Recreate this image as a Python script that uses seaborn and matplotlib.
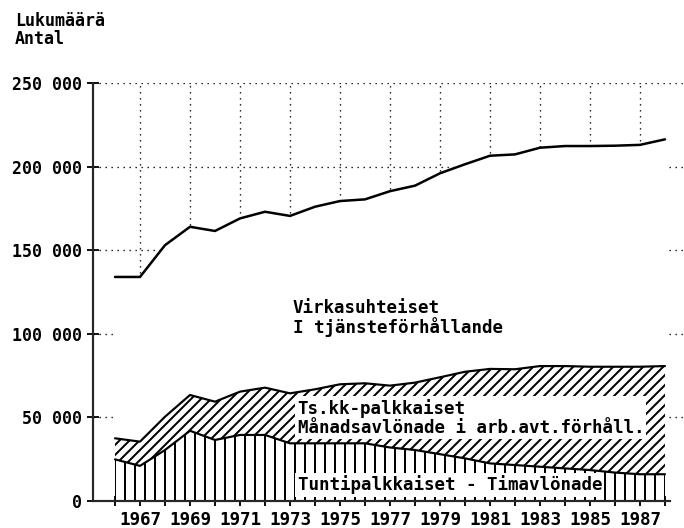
import matplotlib
matplotlib.use("Agg")
import matplotlib.pyplot as plt
import matplotlib.ticker as mticker
import seaborn as sns
import numpy as np

# ---- data ----
years = list(range(1966, 1989))
total = [134000, 134000, 153000, 164000, 161500, 169000, 173000, 170500, 176000,
         179400, 180400, 185300, 188600, 196000, 201400, 206500, 207300, 211300,
         212300, 212300, 212500, 213000, 216300]
hourly_plus_monthly = [37500, 35500, 50400, 63400, 59400, 65400, 67800, 64400, 66800,
                       69800, 70400, 69000, 70800, 74000, 77300, 79000, 78800, 80700,
                       80700, 80300, 80300, 80300, 80700]
hourly = [24900, 21000, 30500, 42000, 36500, 39500, 39500, 34500, 34500, 34500,
          34500, 32000, 30500, 28000, 25500, 22500, 21500, 20500, 19500, 18500,
          17000, 16000, 16000]
ytick_values = [0, 50000, 100000, 150000, 200000, 250000]
xtick_labels = list(range(1967, 1988, 2))

label_civil = "Virkasuhteiset\nI tjänsteförhållande"
label_monthly = "Ts.kk-palkkaiset\nMånadsavlönade i arb.avt.förhåll."
label_hourly = "Tuntipalkkaiset - Timavlönade"
ylabel_text = "Lukumäärä\nAntal"

# ---- style ----
sns.set_style("ticks")
plt.rcParams["font.family"] = ["DejaVu Sans Mono", "DejaVu Sans"]
plt.rcParams["font.weight"] = "bold"
plt.rcParams["text.color"] = "black"
plt.rcParams["hatch.linewidth"] = 1.2
plt.rcParams["hatch.color"] = "black"
FS = 10
FS_ANN = 10.5

fig = plt.figure(figsize=(5.7, 4.4), dpi=120)
ax = fig.add_axes([93 / 684, 27 / 528, 1 - 93 / 684, (501 - 83) / 528])

x = np.array(years, dtype=float)

# grid
for v in ytick_values[1:]:
    ax.axhline(v, color="black", lw=0.8, ls=(0, (1, 3.5)), zorder=0)
for yr in xtick_labels:
    ax.axvline(yr, color="black", lw=0.8, ls=(0, (1, 3.5)), zorder=0)

# white area under total line hides the grid
ax.fill_between(x, 0, total, facecolor="white", edgecolor="none", lw=0, zorder=1)
# monthly (diagonal hatch)
ax.fill_between(x, hourly, hourly_plus_monthly, facecolor="white", edgecolor="black",
                lw=0, hatch="////", zorder=2)
# hourly (vertical hatch)
ax.fill_between(x, 0, hourly, facecolor="white", edgecolor="black",
                lw=0, hatch="||", zorder=2.1)

sns.lineplot(x=years, y=total, color="black", lw=1.5, ax=ax, zorder=3)
sns.lineplot(x=years, y=hourly_plus_monthly, color="black", lw=1.3, ax=ax, zorder=3)
sns.lineplot(x=years, y=hourly, color="black", lw=1.3, ax=ax, zorder=3)

# annotations
ax.text(1973.12, 109500, label_civil, fontsize=FS_ANN, ha="left", va="center",
        linespacing=1.0, zorder=5)
ax.text(1973.3, 49800, label_monthly, fontsize=FS_ANN, ha="left", va="center",
        linespacing=1.05, zorder=5,
        bbox=dict(facecolor="white", edgecolor="none", pad=1.5))
ax.text(1973.3, 9600, label_hourly, fontsize=FS_ANN, ha="left", va="center",
        zorder=5, bbox=dict(facecolor="white", edgecolor="none", pad=1.5))

# axes
ax.set_xlim(1965.12, 1988.76)
ax.set_ylim(0, 250000)
ax.spines["top"].set_visible(False)
ax.spines["right"].set_visible(False)
ax.spines["bottom"].set_bounds(1965.12, 1988.2)
ax.spines["left"].set_linewidth(1.3)
ax.spines["bottom"].set_linewidth(1.3)
ax.set_xlabel("")
ax.set_ylabel("")

ax.set_yticks(ytick_values)
ax.yaxis.set_major_formatter(mticker.FuncFormatter(
    lambda v, p: f"{int(v):,}".replace(",", " ")))
ax.set_xticks(xtick_labels)
ax.set_xticklabels([str(y) for y in xtick_labels])
ax.set_xticks(years, minor=True)
ax.tick_params(axis="both", which="both", direction="inout", width=1.1,
               colors="black")
ax.tick_params(axis="y", length=7, pad=3, labelsize=FS)
ax.tick_params(axis="x", which="major", length=6, pad=3, labelsize=FS + 0.5)
ax.tick_params(axis="x", which="minor", length=6)

fig.text(15 / 684, 1 - 12 / 528, ylabel_text, fontsize=FS, ha="left", va="top",
         linespacing=1.0)

fig.savefig("out.png", dpi=120, facecolor="white")
